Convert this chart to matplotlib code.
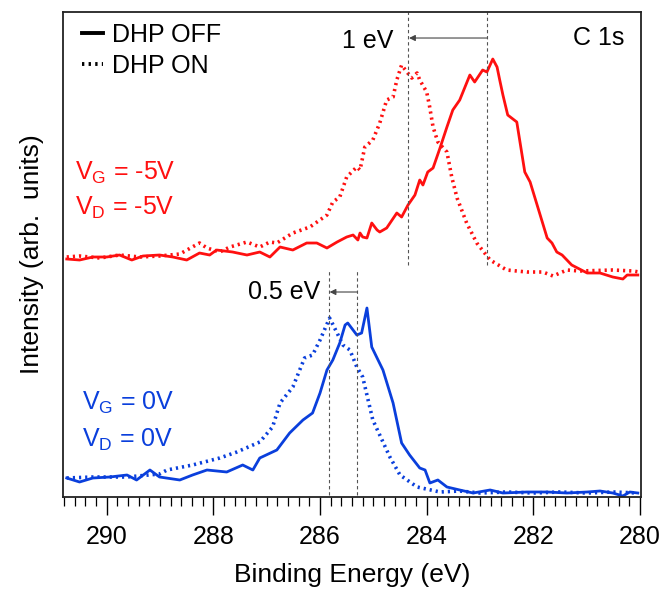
import matplotlib
matplotlib.use("Agg")
import matplotlib.pyplot as plt
from matplotlib.lines import Line2D
from matplotlib.ticker import MultipleLocator

plt.rcParams['font.family'] = ['Liberation Sans', 'DejaVu Sans']
plt.rcParams['mathtext.fontset'] = 'custom'
plt.rcParams['mathtext.rm'] = 'Liberation Sans'

# ---------------- data ----------------
red_off_E = [290.75, 290.51, 290.26, 290.00, 289.76, 289.53, 289.32, 289.01, 288.76, 288.50,
             288.26, 288.07, 287.94, 287.64, 287.37, 287.13, 286.94, 286.75, 286.51, 286.25,
             286.06, 285.87, 285.68, 285.50, 285.38, 285.29, 285.25, 285.20, 285.12, 285.03,
             284.93, 284.88, 284.75, 284.56, 284.47, 284.35, 284.22, 284.13, 284.07, 283.98,
             283.88, 283.75, 283.62, 283.51, 283.38, 283.19, 283.10, 282.95, 282.87, 282.76,
             282.68, 282.63, 282.57, 282.48, 282.31, 282.16, 282.06, 281.74, 281.65, 281.56,
             281.46, 281.28, 280.99, 280.75, 280.51, 280.32, 280.24, 280.04]
red_off_I = [2.38, 2.37, 2.40, 2.40, 2.42, 2.37, 2.41, 2.42, 2.40, 2.37,
             2.44, 2.42, 2.47, 2.45, 2.42, 2.45, 2.40, 2.50, 2.47, 2.54,
             2.54, 2.49, 2.55, 2.60, 2.62, 2.57, 2.64, 2.60, 2.59, 2.74,
             2.67, 2.65, 2.69, 2.84, 2.80, 2.92, 3.02, 3.17, 3.12, 3.25,
             3.29, 3.49, 3.70, 3.87, 3.97, 4.22, 4.15, 4.27, 4.25, 4.38,
             4.30, 4.17, 4.02, 3.82, 3.75, 3.25, 3.15, 2.59, 2.54, 2.45,
             2.42, 2.32, 2.24, 2.24, 2.20, 2.18, 2.22, 2.22]

red_on_E = [290.75, 290.51, 290.13, 289.76, 289.38, 289.01, 288.63, 288.26, 288.12, 287.88,
            287.69, 287.37, 287.13, 286.94, 286.81, 286.51, 286.19, 285.87, 285.76, 285.63,
            285.50, 285.31, 285.25, 285.16, 285.01, 284.88, 284.75, 284.63, 284.56, 284.47,
            284.37, 284.28, 284.18, 284.13, 284.00, 283.95, 283.88, 283.79, 283.62, 283.53,
            283.43, 283.25, 283.06, 282.81, 282.50, 282.12, 281.82, 281.63, 281.37, 281.13,
            280.51, 280.13, 280.02]
red_on_I = [2.40, 2.41, 2.39, 2.42, 2.40, 2.41, 2.43, 2.54, 2.49, 2.45,
            2.50, 2.55, 2.50, 2.55, 2.54, 2.64, 2.70, 2.82, 2.95, 3.00,
            3.20, 3.30, 3.27, 3.50, 3.57, 3.74, 3.97, 4.00, 4.17, 4.32,
            4.25, 4.19, 4.24, 4.17, 4.05, 3.92, 3.70, 3.55, 3.45, 3.20,
            2.99, 2.74, 2.54, 2.37, 2.27, 2.25, 2.25, 2.21, 2.27, 2.26,
            2.27, 2.26, 2.25]

blue_off_E = [290.75, 290.51, 290.26, 289.94, 289.62, 289.44, 289.19, 289.01, 288.63, 288.39,
              288.12, 287.75, 287.45, 287.26, 287.13, 286.81, 286.57, 286.32, 286.14, 286.00,
              285.87, 285.76, 285.63, 285.53, 285.48, 285.31, 285.22, 285.12, 285.03, 284.93,
              284.82, 284.63, 284.47, 284.32, 284.13, 284.03, 283.94, 283.79, 283.62, 283.38,
              283.13, 282.81, 282.57, 282.12, 281.74, 281.37, 280.99, 280.75, 280.51, 280.32,
              280.19, 280.04]
blue_off_I = [0.19, 0.15, 0.19, 0.20, 0.22, 0.17, 0.27, 0.20, 0.17, 0.22,
              0.27, 0.25, 0.32, 0.27, 0.39, 0.47, 0.64, 0.77, 0.84, 1.04,
              1.27, 1.37, 1.54, 1.72, 1.74, 1.62, 1.64, 1.89, 1.50, 1.39,
              1.27, 0.94, 0.54, 0.42, 0.29, 0.27, 0.14, 0.17, 0.10, 0.07,
              0.04, 0.07, 0.04, 0.05, 0.05, 0.04, 0.05, 0.06, 0.04, 0.01,
              0.05, 0.04]

blue_on_E = [290.75, 290.26, 289.62, 289.01, 288.87, 288.39, 287.88, 287.56, 287.13, 286.89,
             286.75, 286.51, 286.29, 286.14, 286.00, 285.82, 285.68, 285.57, 285.44, 285.31,
             285.20, 285.01, 284.69, 284.50, 284.18, 283.75, 283.38, 283.00, 282.50, 282.00,
             281.50, 281.00, 280.50, 280.04]
blue_on_I = [0.19, 0.20, 0.20, 0.23, 0.27, 0.32, 0.39, 0.45, 0.55, 0.70,
             0.94, 1.10, 1.39, 1.42, 1.57, 1.79, 1.64, 1.52, 1.47, 1.30,
             1.20, 0.77, 0.40, 0.22, 0.10, 0.05, 0.06, 0.04, 0.05, 0.04,
             0.05, 0.04, 0.05, 0.04]

red_peaks = [284.35, 282.87]     # DHP ON, DHP OFF peak markers (upper spectra)
blue_peaks = [285.84, 285.31]    # DHP ON, DHP OFF peak markers (lower spectra)
shift_labels = ['1 eV', '0.5 eV']
legend_labels = ['DHP OFF', 'DHP ON']
red_text = [r'V$_\mathregular{G}$ = -5V', r'V$_\mathregular{D}$ = -5V']
blue_text = [r'V$_\mathregular{G}$ = 0V', r'V$_\mathregular{D}$ = 0V']
xticks = [290, 288, 286, 284, 282, 280]

RED = '#FF1010'
BLUE = '#0A3FDC'
FS = 18

fig = plt.figure(figsize=(6.64, 5.89), dpi=100)
ax = fig.add_axes([0.0949, 0.1562, 0.8705, 0.8234])

dot = (0, (0.6, 1.1))
ax.plot(red_off_E, red_off_I, color=RED, lw=2.0)
ax.plot(red_on_E, red_on_I, color=RED, lw=2.6, linestyle=dot)
ax.plot(blue_off_E, blue_off_I, color=BLUE, lw=2.0)
ax.plot(blue_on_E, blue_on_I, color=BLUE, lw=2.6, linestyle=dot)

ax.set_xlim(290.82, 279.98)
ax.set_ylim(0, 4.85)

# peak marker lines
vls = dict(color='#555555', lw=0.8, linestyle=(0, (3, 2.5)))
for e in red_peaks:
    ax.plot([e, e], [2.32, 4.85], **vls)
for e in blue_peaks:
    ax.plot([e, e], [0.02, 2.27], **vls)

arrow = dict(arrowstyle='-|>', color='#444444', lw=0.8, mutation_scale=9,
             shrinkA=0, shrinkB=0)
ax.annotate('', xy=(red_peaks[0] - 0.02, 4.59), xytext=(red_peaks[1], 4.59), arrowprops=arrow)
ax.annotate('', xy=(blue_peaks[0] - 0.02, 2.05), xytext=(blue_peaks[1], 2.05), arrowprops=arrow)
ax.text(284.63, 4.56, shift_labels[0], fontsize=FS, ha='right', va='center')
ax.text(286.00, 2.05, shift_labels[1], fontsize=FS, ha='right', va='center')

ax.text(0.972, 0.946, 'C 1s', transform=ax.transAxes, fontsize=FS, ha='right', va='center')

ax.text(290.60, 3.17, red_text[0], color=RED, fontsize=FS, ha='left', va='baseline')
ax.text(290.60, 2.82, red_text[1], color=RED, fontsize=FS, ha='left', va='baseline')
ax.text(290.47, 0.87, blue_text[0], color=BLUE, fontsize=FS, ha='left', va='baseline')
ax.text(290.47, 0.50, blue_text[1], color=BLUE, fontsize=FS, ha='left', va='baseline')

handles = [Line2D([], [], color='black', lw=2.8),
           Line2D([], [], color='black', lw=2.8, linestyle=dot)]
ax.legend(handles, legend_labels, loc='upper left', bbox_to_anchor=(0.033, 0.978),
          frameon=False, fontsize=FS, handlelength=0.85, handletextpad=0.35,
          labelspacing=0.3, borderaxespad=0.0, borderpad=0.0)

ax.set_xticks(xticks)
ax.xaxis.set_minor_locator(MultipleLocator(0.2))
ax.tick_params(axis='x', which='major', direction='out', length=13, width=1.0,
               labelsize=FS, pad=7)
ax.tick_params(axis='x', which='minor', direction='out', length=6.5, width=0.9)
ax.set_yticks([])
for s in ax.spines.values():
    s.set_linewidth(1.3)
    s.set_color('#222222')

ax.set_xlabel('Binding Energy (eV)', fontsize=19, labelpad=10)
ax.set_ylabel('Intensity (arb.  units)', fontsize=19, labelpad=14)

fig.savefig('out.png', dpi=100)
